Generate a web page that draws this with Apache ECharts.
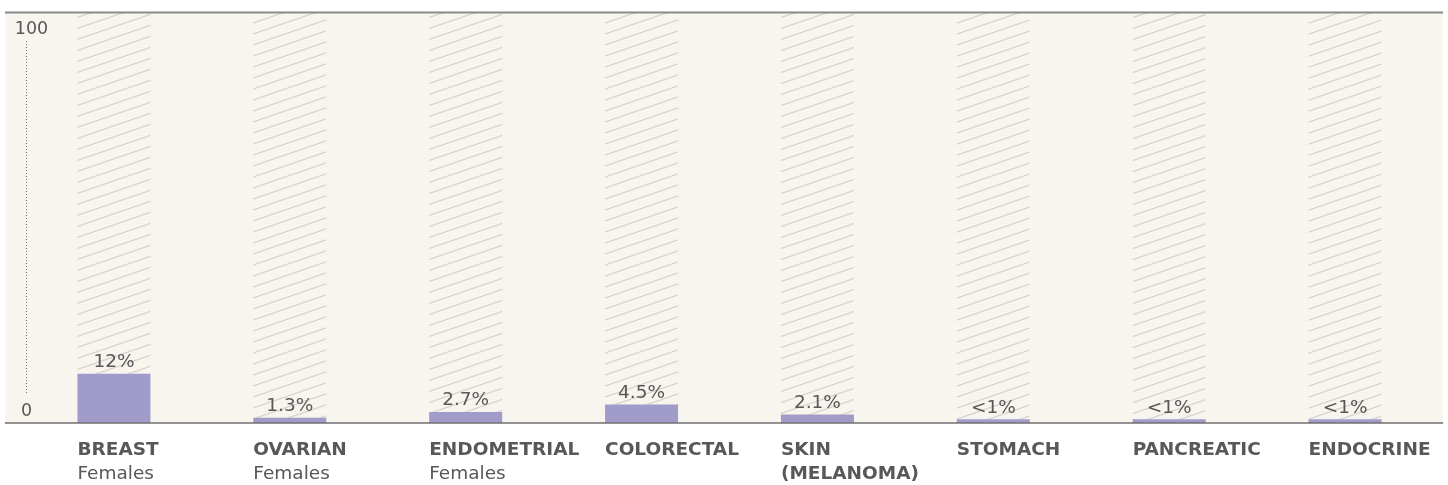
<!DOCTYPE html>
<html><head><meta charset="utf-8">
<script src="https://cdn.jsdelivr.net/npm/echarts@6/dist/echarts.min.js"></script>
<style>html,body{margin:0;padding:0;background:#fff}#c{width:1448px;height:485px}</style>
</head><body><div id="c"></div>
<script>
// ---- data ----
const categories = ['BREAST', 'OVARIAN', 'ENDOMETRIAL', 'COLORECTAL', 'SKIN\n(MELANOMA)', 'STOMACH', 'PANCREATIC', 'ENDOCRINE'];
const subtitles = ['Females', 'Females', 'Females', '', '', '', '', ''];
const values = [12, 1.3, 2.7, 4.5, 2.1, 0.9, 0.9, 0.9];
const valueLabels = ['12%', '1.3%', '2.7%', '4.5%', '2.1%', '<1%', '<1%', '<1%'];
const scaleMax = 100;
const tickLabels = ['0', '100'];
const backgroundValues = categories.map(() => scaleMax);

// ---- style ----
const FONT = '"DejaVu Sans", sans-serif';
const TEXT = '#58585a';

const PW = 32, PH = 11;
const pc = document.createElement('canvas');
pc.width = PW; pc.height = PH;
const ctx = pc.getContext('2d');
ctx.strokeStyle = '#d7d4cc';
ctx.lineWidth = 1.2;
for (const dx of [-PW, 0, PW]) {
  for (const dy of [-PH, 0, PH]) {
    ctx.beginPath();
    ctx.moveTo(dx, PH + dy);
    ctx.lineTo(dx + PW, dy);
    ctx.stroke();
  }
}

const chart = echarts.init(document.getElementById('c'), null, {renderer: 'canvas'});
const option = {
  animation: false,
  backgroundColor: '#ffffff',
  grid: {left: 26, right: 15, top: 13, bottom: 62, containLabel: false},
  xAxis: {
    type: 'category',
    data: categories,
    axisLine: {show: false},
    axisTick: {show: false},
    axisLabel: {
      interval: 0,
      margin: 15,
      formatter: function (v, i) {
        const lines = v.split('\n').map(l => '{b|' + l + '}');
        if (subtitles[i]) lines.push('{n|' + subtitles[i] + '}');
        return lines.join('\n');
      },
      rich: {
        b: {fontFamily: FONT, fontWeight: 'bold', fontSize: 18.5, color: TEXT, width: 73, align: 'left', lineHeight: 24},
        n: {fontFamily: FONT, fontWeight: 'normal', fontSize: 18.5, color: TEXT, width: 73, align: 'left', lineHeight: 24}
      }
    }
  },
  yAxis: {
    type: 'value', min: 0, max: scaleMax,
    axisLabel: {show: false}, axisLine: {show: false}, axisTick: {show: false}, splitLine: {show: false}
  },
  series: [
    {
      type: 'bar', silent: true, barWidth: 73, z: 1,
      data: backgroundValues,
      itemStyle: {color: {image: pc, repeat: 'repeat'}}
    },
    {
      type: 'bar', silent: true, barWidth: 73, barGap: '-100%', z: 2,
      data: values,
      itemStyle: {color: '#a19bca'},
      label: {
        show: true, position: 'top', distance: 2,
        fontFamily: FONT, fontSize: 18.5, color: TEXT,
        formatter: p => valueLabels[p.dataIndex]
      }
    }
  ]
};
chart.setOption(option);

// y-axis end labels and dotted guide, placed through the axis scale
const yTop = chart.convertToPixel({yAxisIndex: 0}, scaleMax);
const yBot = chart.convertToPixel({yAxisIndex: 0}, 0);
chart.setOption({
  graphic: [
    {type: 'rect', z: -10, silent: true, shape: {x: 5, y: 12, width: 1438, height: 411}, style: {fill: '#f7f5ee'}},
    {type: 'line', z: 10, silent: true, shape: {x1: 5, y1: 12.5, x2: 1443, y2: 12.5}, style: {stroke: '#8a8a8a', lineWidth: 2}},
    {type: 'line', z: 10, silent: true, shape: {x1: 5, y1: 423, x2: 1443, y2: 423}, style: {stroke: '#6f6f6f', lineWidth: 1.5}},
    {type: 'text', z: 10, silent: true, x: 31.5, y: yTop + 16, style: {text: tickLabels[1], fontFamily: FONT, fontSize: 17.5, fill: TEXT, align: 'center', verticalAlign: 'middle'}},
    {type: 'text', z: 10, silent: true, x: 26.5, y: yBot - 12, style: {text: tickLabels[0], fontFamily: FONT, fontSize: 17.5, fill: TEXT, align: 'center', verticalAlign: 'middle'}},
    {type: 'line', z: 10, silent: true, shape: {x1: 26.5, y1: yTop + 28, x2: 26.5, y2: yBot - 28}, style: {stroke: '#777', lineWidth: 1, lineDash: [1, 2]}}
  ]
});
</script>
</body></html>
